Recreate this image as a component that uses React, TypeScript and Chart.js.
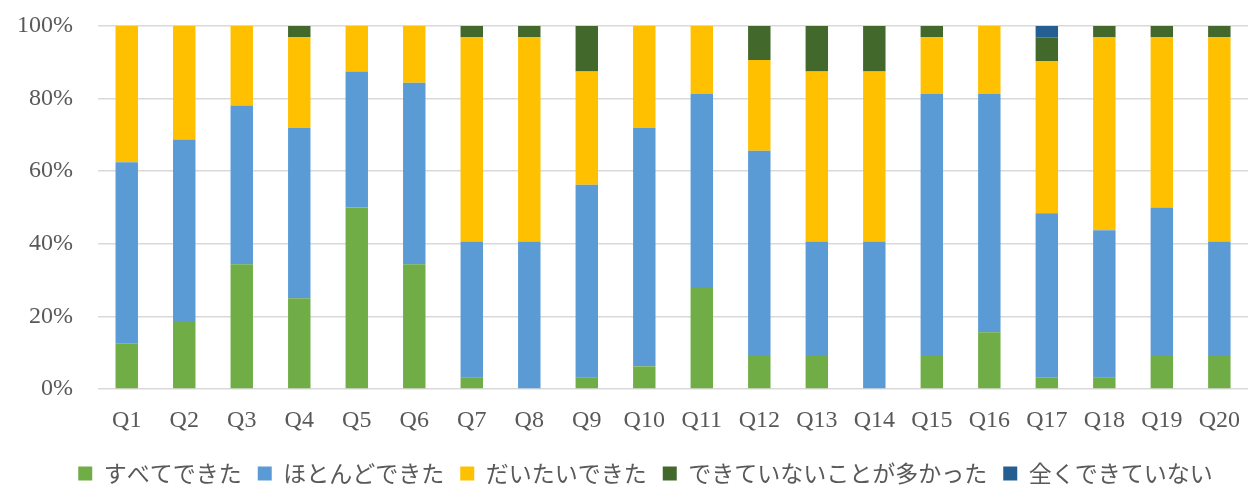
import React, { useEffect, useRef } from "react";
import { Chart, registerables } from "chart.js";

Chart.register(...registerables);

const categories = ["Q1","Q2","Q3","Q4","Q5","Q6","Q7","Q8","Q9","Q10","Q11","Q12","Q13","Q14","Q15","Q16","Q17","Q18","Q19","Q20"];
const seriesNames = ["すべてできた","ほとんどできた","だいたいできた","できていないことが多かった","全くできていない"];
const allDone = [12.5,18.75,34.375,25,50,34.375,3.125,0,3.125,6.25,28.125,9.375,9.375,0,9.375,15.625,3.23,3.125,9.375,9.375];
const mostlyDone = [50,50,43.75,46.875,37.5,50,37.5,40.625,53.125,65.625,53.125,56.25,31.25,40.625,71.875,65.625,45.16,40.625,40.625,31.25];
const roughlyDone = [37.5,31.25,21.875,25,12.5,15.625,56.25,56.25,31.25,28.125,18.75,25,46.875,46.875,15.625,18.75,41.94,53.125,46.875,56.25];
const oftenNotDone = [0,0,0,3.125,0,0,3.125,3.125,12.5,0,0,9.375,12.5,12.5,3.125,0,6.45,3.125,3.125,3.125];
const notDoneAtAll = [0,0,0,0,0,0,0,0,0,0,0,0,0,0,0,0,3.23,0,0,0];
const yTicks = [0,20,40,60,80,100];
const colors = ["#70AD47","#5B9BD5","#FFC000","#43682B","#255E91"];

export default function App() {
  const ref = useRef<HTMLCanvasElement>(null);
  useEffect(() => {
    document.body.style.margin = "0";
    document.body.style.overflow = "hidden";
    const values = [allDone, mostlyDone, roughlyDone, oftenNotDone, notDoneAtAll];
    const shiftLegend = {
      id: "shiftLegend",
      afterLayout(chart: any) {
        const lg = chart.legend;
        if (lg) { lg.left += 17; lg.right += 17; lg.top += 8; lg.bottom += 8; }
      },
    };
    const chart = new Chart(ref.current!, {
      type: "bar",
      data: {
        labels: categories,
        datasets: seriesNames.map((n, i) => ({
          label: n,
          data: values[i],
          backgroundColor: colors[i],
          borderWidth: 0,
          barPercentage: 0.39,
          categoryPercentage: 1,
        })),
      },
      plugins: [shiftLegend],
      options: {
        animation: false,
        responsive: false,
        maintainAspectRatio: false,
        layout: { padding: { top: 26, left: 0, right: 0, bottom: 0 } },
        plugins: {
          tooltip: { enabled: false },
          legend: {
            position: "bottom",
            labels: {
              boxWidth: 14,
              boxHeight: 14,
              padding: 16,
              color: "#595959",
              font: { family: "'Noto Sans CJK JP'", size: 23 },
            },
          },
        },
        scales: {
          x: {
            stacked: true,
            grid: { display: false, drawTicks: false },
            border: { display: false },
            ticks: {
              padding: 17,
              color: "#595959",
              font: { family: "'Liberation Serif'", size: 24 },
              maxRotation: 0,
              autoSkip: false,
            },
            afterFit(scale: any) { scale.height = 49; },
          },
          y: {
            stacked: true,
            min: 0,
            max: 100,
            afterBuildTicks(scale: any) { scale.ticks = yTicks.map((v) => ({ value: v })); },
            grid: { color: "#D9D9D9", lineWidth: 1.5, drawTicks: false },
            border: { display: false },
            ticks: {
              padding: 25,
              color: "#595959",
              font: { family: "'Liberation Serif'", size: 24 },
              callback: (v: any) => v + "%",
            },
            afterFit(scale: any) { scale.width = 98; scale.paddingTop = 10; scale.paddingBottom = 10; },
          },
        },
      },
    });
    return () => chart.destroy();
  }, []);
  return (
    <div style={{ position: "fixed", left: 0, top: 0, width: 1257, height: 487 }}>
      <canvas ref={ref} width={1257} height={487} style={{ width: 1257, height: 487 }} />
    </div>
  );
}
